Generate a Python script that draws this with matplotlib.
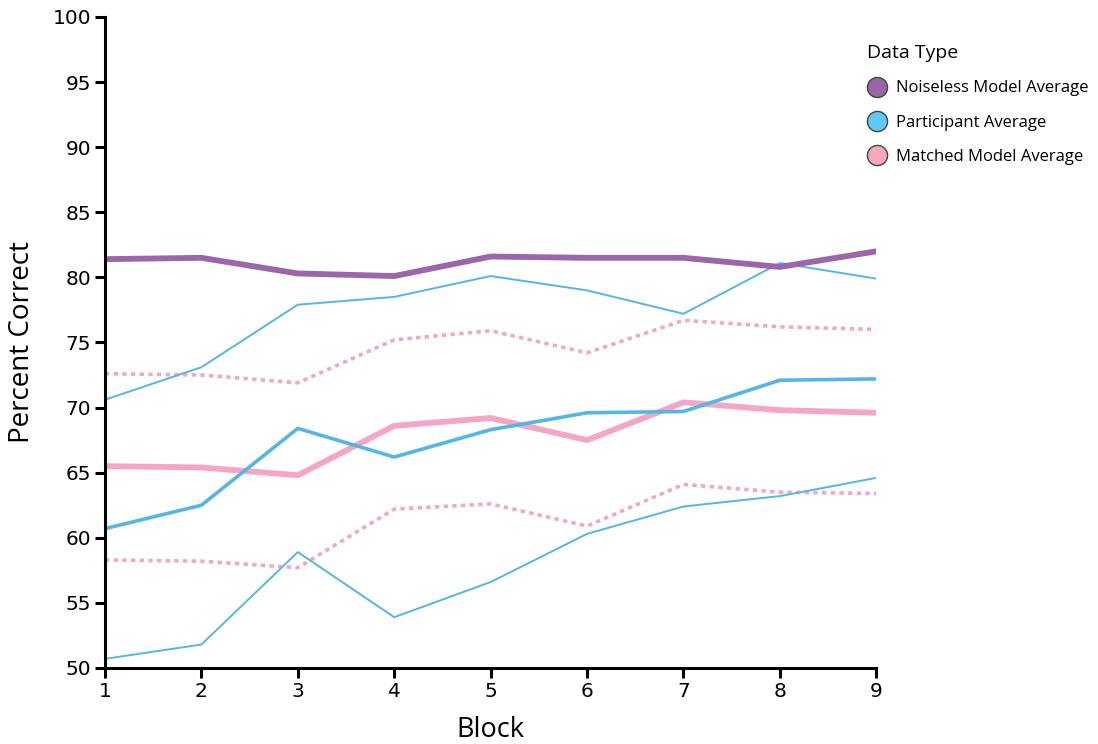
import matplotlib.pyplot as plt
from matplotlib.lines import Line2D

# block numbers and averages per data type
blocks = [1, 2, 3, 4, 5, 6, 7, 8, 9]
noiseless_avg = [81.4, 81.5, 80.3, 80.1, 81.6, 81.5, 81.5, 80.8, 82.0]
participant_avg = [60.7, 62.5, 68.4, 66.2, 68.3, 69.6, 69.7, 72.1, 72.2]
participant_upper = [70.6, 73.1, 77.9, 78.5, 80.1, 79.0, 77.2, 81.1, 79.9]
participant_lower = [50.7, 51.8, 58.9, 53.9, 56.6, 60.3, 62.4, 63.2, 64.6]
matched_avg = [65.5, 65.4, 64.8, 68.6, 69.2, 67.5, 70.4, 69.8, 69.6]
matched_upper = [72.6, 72.5, 71.9, 75.2, 75.9, 74.2, 76.7, 76.2, 76.0]
matched_lower = [58.3, 58.2, 57.7, 62.2, 62.6, 60.9, 64.1, 63.5, 63.4]

legend_labels = ["Noiseless Model Average", "Participant Average", "Matched Model Average"]

purple = "#9b66aa"
blue = "#55b6e6"
pink = "#f5a5c6"

fig = plt.figure(figsize=(10.98, 7.44), dpi=100)
ax = fig.add_axes([0.0956, 0.1022, 0.7025, 0.875])

# spread lines first, averages on top
ax.plot(blocks, matched_upper, color=pink, lw=2.6, ls=(0, (1.2, 1.2)))
ax.plot(blocks, matched_lower, color=pink, lw=2.6, ls=(0, (1.2, 1.2)))
ax.plot(blocks, participant_upper, color=blue, lw=1.4)
ax.plot(blocks, participant_lower, color=blue, lw=1.4)
ax.plot(blocks, matched_avg, color=pink, lw=4.2)
ax.plot(blocks, participant_avg, color=blue, lw=2.6)
ax.plot(blocks, noiseless_avg, color=purple, lw=4.2)

ax.set_xlim(1, 9)
ax.set_ylim(50, 100)
ax.set_xticks(blocks)
ax.set_yticks(range(50, 101, 5))

for side in ["top", "right"]:
    ax.spines[side].set_visible(False)
for side in ["left", "bottom"]:
    ax.spines[side].set_linewidth(2.2)
ax.tick_params(axis="both", width=2.2, length=7, labelsize=14.5, pad=3)

ax.set_xlabel("Block", fontsize=19.5, family="Open Sans", labelpad=11)
ax.set_ylabel("Percent Correct", fontsize=20, family="Open Sans", labelpad=12)

handles = [
    Line2D([], [], ls="none", marker="o", markersize=14.5, markerfacecolor=c,
           markeredgecolor="#444444", markeredgewidth=1.0)
    for c in ["#9a64a8", "#5ccaf5", "#f7a8bc"]
]
leg = fig.legend(handles, legend_labels, title="Data Type", loc="upper left",
                 bbox_to_anchor=(0.782, 0.952), frameon=False,
                 prop={"family": "Open Sans", "size": 12},
                 title_fontproperties={"family": "Open Sans", "size": 14},
                 labelspacing=1.1, handletextpad=0.55, borderpad=0, handlelength=1.2)
leg._legend_box.align = "left"

fig.savefig("out.png", dpi=100)
